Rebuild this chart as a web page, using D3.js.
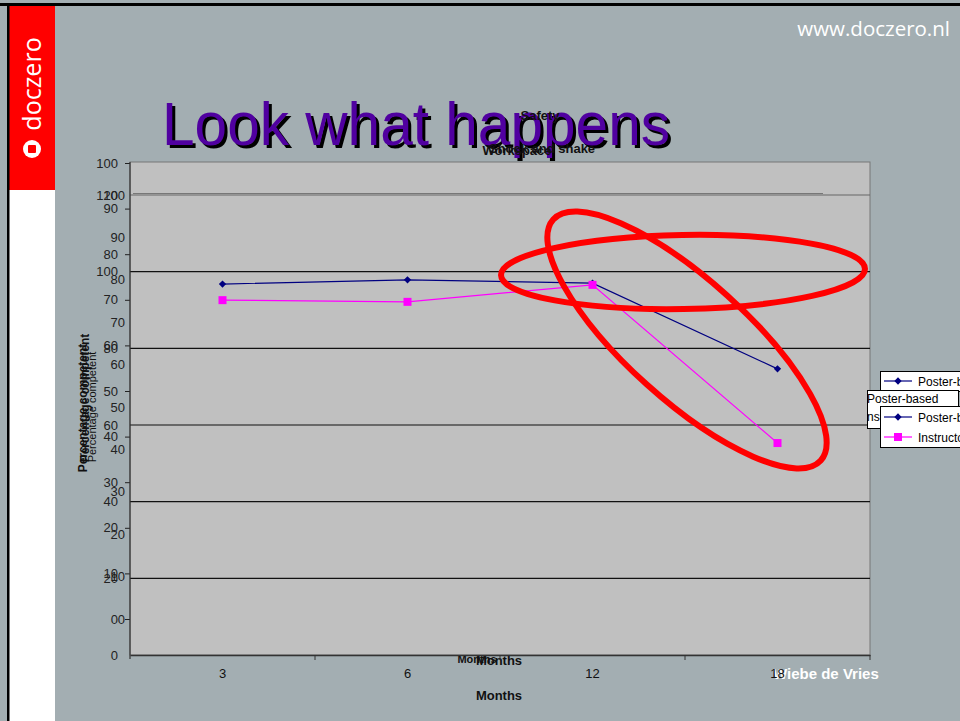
<!DOCTYPE html>
<html>
<head>
<meta charset="utf-8">
<script src="https://cdn.jsdelivr.net/npm/d3@7"></script>
<style>
  body { margin: 0; background: #fff; }
  svg text { font-family: "Liberation Sans", Arial, sans-serif; }
</style>
</head>
<body>
<script>
'use strict';

const width = 960;
const height = 721;

// chart values
let months = ['3', '6', '12', '18'];
let posterBased = [79, 80, 79.2, 59];
let instructor = [75.2, 74.8, 78.8, 41.5];

let ticksA = [0, 10, 20, 30, 40, 50, 60, 70, 80, 90, 100];
let ticksB = [0, 20, 40, 60, 80, 100, 120];
let ticksC = [0, 10, 20, 30, 40, 50, 60, 70, 80, 90, 100];

let legendLabels = ['Poster-based', 'Instructor-led'];

const plotLeft = 130;
const plotRight = 870;
const plotTop = 162;
const plotBottom = 655;

let svg = d3.select("body").append("svg").attr('width', width).attr('height', height);

// slide background
svg.append("rect").attr("width", width).attr("height", height).attr("fill", "#a3aeb2");
svg.append("rect").attr("x", 7).attr("y", 4).attr("width", 48).attr("height", height).attr("fill", "#fff");
svg.append("rect").attr("x", 9).attr("y", 6).attr("width", 46).attr("height", 184).attr("fill", "#ff0000");
svg.append("rect").attr("x", 0).attr("y", 3).attr("width", width).attr("height", 3).attr("fill", "#000");
svg.append("rect").attr("x", 7).attr("y", 3).attr("width", 2.5).attr("height", height).attr("fill", "#000");

// doczero logo
svg.append("text")
    .attr("transform", "translate(41,84) rotate(-90)")
    .attr("text-anchor", "middle")
    .attr("fill", "#fff")
    .style("font-family", "'Open Sans', sans-serif")
    .style("font-size", "25px")
    .text("doczero");
svg.append("circle").attr("cx", 32).attr("cy", 149).attr("r", 9).attr("fill", "#fff");
svg.append("rect").attr("x", 28).attr("y", 145).attr("width", 8).attr("height", 8).attr("rx", 1).attr("fill", "#ff0000");

svg.append("text")
    .attr("x", 950).attr("y", 36)
    .attr("text-anchor", "end")
    .attr("fill", "#fff")
    .style("font-family", "'Open Sans', sans-serif")
    .style("font-size", "20.5px")
    .text("www.doczero.nl");

// plot area
svg.append("rect")
    .attr("x", plotLeft).attr("y", plotTop)
    .attr("width", plotRight - plotLeft).attr("height", plotBottom - plotTop)
    .attr("fill", "#c0c0c0")
    .attr("stroke", "#777").attr("stroke-width", 1);

let xScale = d3.scaleBand().domain(months).range([plotLeft, plotRight]);
let yA = d3.scaleLinear().domain([0, 100]).range([619, 163]);
let yB = d3.scaleLinear().domain([0, 120]).range([plotBottom, 195]);
let yC = d3.scaleLinear().domain([0, 100]).range([619, 195]);

// gridlines of the 0-120 axis
svg.append("g")
    .selectAll("line")
    .data(ticksB.filter(t => t > 0))
    .join("line")
    .attr("x1", plotLeft).attr("x2", plotRight)
    .attr("y1", d => yB(d)).attr("y2", d => yB(d))
    .attr("stroke", d => d == 120 ? "#666" : "#111")
    .attr("stroke-width", 1.2);
svg.append("line")
    .attr("x1", 133).attr("x2", 823).attr("y1", 193.5).attr("y2", 193.5)
    .attr("stroke", "#777");

// three overlapping y axes
function styleAxis(g) {
    g.selectAll("text").attr("fill", "#222").style("font-size", "13px");
    g.selectAll("line").attr("stroke", "#222");
    g.select(".domain").remove();
}

svg.append("g")
    .attr("transform", "translate(" + plotLeft + ",0)")
    .call(d3.axisLeft(yA).tickValues(ticksA).tickSize(5).tickPadding(7))
    .call(styleAxis);

svg.append("g")
    .attr("transform", "translate(" + plotLeft + ",0)")
    .call(d3.axisLeft(yB).tickValues(ticksB).tickSize(0).tickPadding(12))
    .call(styleAxis);

svg.append("g")
    .attr("transform", "translate(" + plotLeft + ",0)")
    .call(d3.axisLeft(yC).tickValues(ticksC).tickSize(0).tickPadding(5))
    .call(styleAxis);

svg.append("line")
    .attr("x1", plotLeft).attr("x2", plotLeft).attr("y1", plotTop).attr("y2", plotBottom + 4)
    .attr("stroke", "#333").attr("stroke-width", 1.2);

// series
let cx = d => xScale(d) + xScale.bandwidth() / 2;
let series = [
    { values: posterBased, color: "#000080", shape: d3.symbolDiamond2, size: 34 },
    { values: instructor, color: "#ff00ff", shape: d3.symbolSquare, size: 64 }
];

for (let s of series) {
    let pts = months.map((m, i) => [cx(m), yC(s.values[i])]);
    svg.append("path")
        .attr("d", d3.line()(pts))
        .attr("fill", "none")
        .attr("stroke", s.color)
        .attr("stroke-width", 1.2);
    svg.append("g")
        .selectAll("path")
        .data(pts)
        .join("path")
        .attr("transform", d => "translate(" + d[0] + "," + d[1] + ")")
        .attr("d", d3.symbol(s.shape, s.size))
        .attr("fill", s.color);
}

// big slide title with shadow
svg.append("text")
    .attr("x", 165).attr("y", 148)
    .attr("textLength", 508).attr("lengthAdjust", "spacingAndGlyphs")
    .style("font-size", "62px")
    .attr("fill", "#000")
    .text("Look what happens");
svg.append("text")
    .attr("x", 162).attr("y", 145)
    .attr("textLength", 508).attr("lengthAdjust", "spacingAndGlyphs")
    .style("font-size", "62px")
    .attr("fill", "#5000a0")
    .text("Look what happens");

// chart titles
svg.append("text")
    .attr("x", 540).attr("y", 120)
    .attr("text-anchor", "middle")
    .style("font-size", "13px").style("font-weight", "bold")
    .attr("fill", "#111")
    .text("Safety");
svg.append("text")
    .attr("x", 517).attr("y", 155)
    .attr("text-anchor", "middle")
    .style("font-size", "13px").style("font-weight", "bold")
    .attr("fill", "#111")
    .text("Workspace");
svg.append("text")
    .attr("x", 542).attr("y", 153)
    .attr("text-anchor", "middle")
    .style("font-size", "13px").style("font-weight", "bold")
    .attr("fill", "#111")
    .text("Shock and shake");

// y titles
let yTitles = [
    { x: 87, y: 408, size: 12, weight: "bold" },
    { x: 89, y: 398, size: 12, weight: "bold" },
    { x: 96, y: 407, size: 11, weight: "normal" }
];
for (let t of yTitles) {
    svg.append("text")
        .attr("transform", "translate(" + t.x + "," + t.y + ") rotate(-90)")
        .attr("text-anchor", "middle")
        .style("font-size", t.size + "px").style("font-weight", t.weight)
        .attr("fill", "#111")
        .text("Percentage competent");
}

// x titles
svg.append("text")
    .attr("x", 477).attr("y", 663)
    .attr("text-anchor", "middle")
    .style("font-size", "11px").style("font-weight", "bold")
    .attr("fill", "#111")
    .text("Months");
svg.append("text")
    .attr("x", 499).attr("y", 665)
    .attr("text-anchor", "middle")
    .style("font-size", "13px").style("font-weight", "bold")
    .attr("fill", "#111")
    .text("Months");
svg.append("text")
    .attr("x", 499).attr("y", 700)
    .attr("text-anchor", "middle")
    .style("font-size", "13px").style("font-weight", "bold")
    .attr("fill", "#111")
    .text("Months");

svg.append("text")
    .attr("x", 773).attr("y", 679)
    .style("font-size", "15px").style("font-weight", "bold")
    .attr("fill", "#fff")
    .text("Wiebe de Vries");

// x axis (its labels sit over the author name)
let xAxisG = svg.append("g")
    .attr("transform", "translate(0," + plotBottom + ")")
    .call(d3.axisBottom(xScale).tickSize(0).tickPadding(14));
xAxisG.select(".domain").attr("stroke", "#333").attr("stroke-width", 1.5);
xAxisG.selectAll("text").attr("fill", "#111").style("font-size", "13px");
svg.append("g")
    .selectAll("line")
    .data(months.slice(1).concat(['end']))
    .join("line")
    .attr("x1", (d, i) => i < 3 ? xScale(d) : plotRight)
    .attr("x2", (d, i) => i < 3 ? xScale(d) : plotRight)
    .attr("y1", plotBottom).attr("y2", plotBottom + 5)
    .attr("stroke", "#333");

// red ellipses drawn on the slide
svg.append("ellipse")
    .attr("cx", 683).attr("cy", 272).attr("rx", 182).attr("ry", 37)
    .attr("transform", "rotate(-1,683,272)")
    .attr("fill", "none").attr("stroke", "#ff0000").attr("stroke-width", 6);
svg.append("ellipse")
    .attr("cx", 687).attr("cy", 340).attr("rx", 180).attr("ry", 60)
    .attr("transform", "rotate(42,687,340)")
    .attr("fill", "none").attr("stroke", "#ff0000").attr("stroke-width", 6);

// legends (overlapping, cut off at the right edge)
function legendItem(g, x, y, s, label) {
    g.append("line").attr("x1", x).attr("x2", x + 28).attr("y1", y).attr("y2", y)
        .attr("stroke", s.color).attr("stroke-width", 1.2);
    g.append("path")
        .attr("transform", "translate(" + (x + 14) + "," + y + ")")
        .attr("d", d3.symbol(s.shape, s.size))
        .attr("fill", s.color);
    g.append("text").attr("x", x + 34).attr("y", y + 4.5)
        .style("font-size", "12px").attr("fill", "#000").text(label);
}

let lg = svg.append("g");
lg.append("rect").attr("x", 880.5).attr("y", 371.5).attr("width", 100).attr("height", 20)
    .attr("fill", "#fff").attr("stroke", "#000");
legendItem(lg, 884, 381, series[0], legendLabels[0]);
lg.append("rect").attr("x", 867.5).attr("y", 390.5).attr("width", 91).attr("height", 38)
    .attr("fill", "#fff").attr("stroke", "#000");
lg.append("text").attr("x", 867).attr("y", 403).style("font-size", "12px").text(legendLabels[0]);
lg.append("text").attr("x", 867).attr("y", 421).style("font-size", "12px").text("ns");
lg.append("rect").attr("x", 880.5).attr("y", 406.5).attr("width", 100).attr("height", 41)
    .attr("fill", "#fff").attr("stroke", "#000");
legendItem(lg, 884, 417, series[0], legendLabels[0]);
legendItem(lg, 884, 437, series[1], legendLabels[1]);
</script>
</body>
</html>
